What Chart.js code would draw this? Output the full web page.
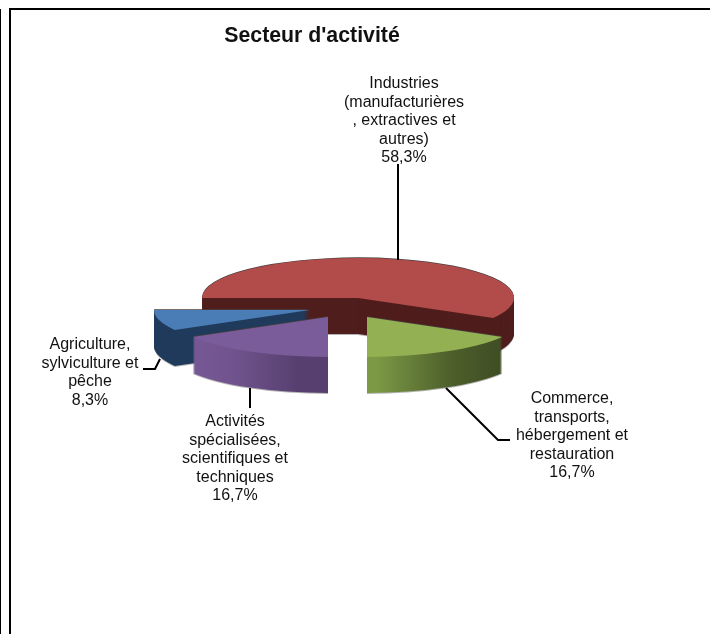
<!DOCTYPE html>
<html>
<head>
<meta charset="utf-8">
<title>Secteur d'activité</title>
<script src="https://cdn.jsdelivr.net/npm/chart.js@4/dist/chart.umd.min.js"></script>
<style>
    body { margin: 0; background: #fff; }
    canvas { display: block; }
</style>
</head>
<body>
<canvas id="pie" width="710" height="634"></canvas>
<script>
"use strict";
const chartTitle = "Secteur d'activité";
const categories = [
    ['Industries', '(manufacturières', ', extractives et', 'autres)'],
    ['Commerce,', 'transports,', 'hébergement et', 'restauration'],
    ['Activités', 'spécialisées,', 'scientifiques et', 'techniques'],
    ['Agriculture,', 'sylviculture et', 'pêche']
];
const shares = [58.3, 16.7, 16.7, 8.3];
const topColors = ['#b14c4a', '#93b152', '#7b5c9a', '#4a7db5'];

// fake 3D: flatten factor, wall height and how far each slice is pulled out
const squash = 0.256;
const depth = 36;
const pullOut = [[0, 0], [9, 19], [-30, 19], [-48, 12]];
const paintOrder = [0, 3, 2, 1];
const labelBoxes = [
    { x: 404, y: 84 },
    { x: 572, y: 399 },
    { x: 235, y: 422 },
    { x: 90, y: 345 }
];
const leaders = [
    [[398, 164], [398, 260]],
    [[446, 388], [498, 440], [510, 440]],
    [[250, 388], [250, 408]],
    [[143, 369], [155, 369], [160, 359]]
];

function wallPaint(ctx, i, arc, shiftX) {
    const left = arc.x + shiftX - arc.outerRadius;
    const right = arc.x + shiftX + arc.outerRadius;
    const grad = ctx.createLinearGradient(left, 0, right, 0);
    if (i === 0) {
        return '#4f1d1c';
    }
    if (i === 1) {
        const g = ctx.createLinearGradient(arc.x + shiftX, 0, arc.x + shiftX + 135, 0);
        g.addColorStop(0, '#7c9a46');
        g.addColorStop(0.55, '#4d5f2b');
        g.addColorStop(1, '#3d4a23');
        return g;
    }
    if (i === 2) {
        const g = ctx.createLinearGradient(arc.x + shiftX - 135, 0, arc.x + shiftX, 0);
        g.addColorStop(0, '#7a5b99');
        g.addColorStop(0.5, '#71548e');
        g.addColorStop(1, '#574070');
        return g;
    }
    // blue slice: outer wall stops at the corner, the rest is the cut face
    const corner = arc.x + shiftX + Math.cos(arc.startAngle) * arc.outerRadius;
    const stop = (corner - left) / (right - left);
    grad.addColorStop(0, '#4676ab');
    grad.addColorStop(stop, '#4676ab');
    grad.addColorStop(stop, '#1f3a5a');
    grad.addColorStop(1, '#1f3a5a');
    return grad;
}

function paintArc(arc, ctx, color) {
    const saved = arc.options;
    arc.options = Object.assign({}, saved, { backgroundColor: color });
    arc.draw(ctx);
    arc.options = saved;
}

function paintLayer(arc, ctx, sx, sy, d, color) {
    ctx.save();
    ctx.translate(arc.x + sx, arc.y + sy + d);
    ctx.scale(1, squash);
    ctx.translate(-arc.x, -arc.y);
    paintArc(arc, ctx, color);
    ctx.restore();
}

const tiltedPie = {
    id: 'tiltedPie',
    beforeDatasetDraw(chart) {
        const ctx = chart.ctx;
        const arcs = chart.getDatasetMeta(0).data;
        paintOrder.forEach((i) => {
            const arc = arcs[i];
            const [sx, sy] = pullOut[i];
            const wall = wallPaint(ctx, i, arc, sx);
            // grey fringe under the wall, dark rim above the top face
            paintLayer(arc, ctx, sx, sy, depth + 1, '#b4b4b4');
            for (let d = depth; d > 0; d--) {
                paintLayer(arc, ctx, sx, sy, d, wall);
            }
            paintLayer(arc, ctx, sx, sy, -0.7, '#4a4044');
            paintLayer(arc, ctx, sx, sy, 0, topColors[i]);
        });
        return false;
    },
    afterDraw(chart) {
        const ctx = chart.ctx;
        // frame
        ctx.fillStyle = '#000';
        ctx.fillRect(9, 8, 701, 2);
        ctx.fillRect(9, 8, 2, 626);
        ctx.fillRect(0, 9, 1, 625);
        // title
        ctx.fillStyle = '#111';
        ctx.textAlign = 'center';
        ctx.textBaseline = 'middle';
        ctx.font = 'bold 21.3px "Liberation Sans"';
        ctx.fillText(chartTitle, 312, 36);
        // leader lines
        ctx.strokeStyle = '#000';
        ctx.lineWidth = 2;
        leaders.forEach((pts) => {
            ctx.beginPath();
            pts.forEach((p, n) => (n ? ctx.lineTo(p[0], p[1]) : ctx.moveTo(p[0], p[1])));
            ctx.stroke();
        });
        // labels
        ctx.font = '16px "Liberation Sans"';
        categories.forEach((lines, i) => {
            const text = lines.concat(shares[i].toFixed(1).replace('.', ',') + '%');
            text.forEach((line, n) => {
                ctx.fillText(line, labelBoxes[i].x, labelBoxes[i].y + n * 18.5);
            });
        });
    }
};

new Chart(document.getElementById('pie'), {
    type: 'pie',
    data: {
        labels: categories.map(c => c.join(' ')),
        datasets: [{
            data: shares,
            backgroundColor: topColors,
            borderWidth: 0,
            hoverOffset: 0
        }]
    },
    options: {
        responsive: false,
        animation: false,
        events: [],
        rotation: -90,
        layout: { padding: { left: 202, right: 196, top: 142, bottom: 180 } },
        plugins: {
            legend: { display: false },
            title: { display: false },
            tooltip: { enabled: false }
        }
    },
    plugins: [tiltedPie]
});
</script>
</body>
</html>
